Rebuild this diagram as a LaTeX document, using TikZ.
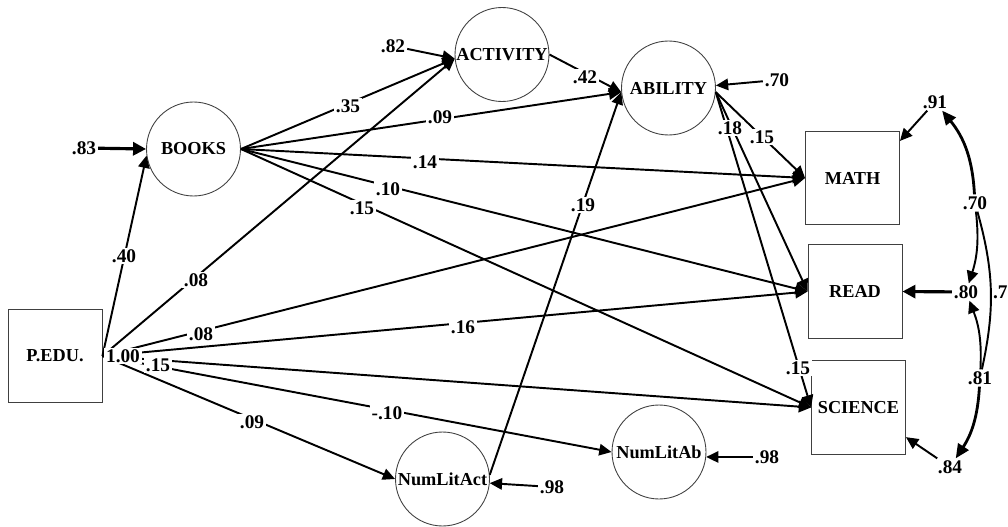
\documentclass[tikz,border=0pt]{standalone}
\usepackage{fontspec}
\setmainfont{Liberation Serif}
\usetikzlibrary{arrows.meta}
\tikzset{
  latent/.style={circle, draw=black!75, line width=0.5pt, minimum size=1.88cm, inner sep=0pt,
    font=\fontsize{10.4}{12}\selectfont\bfseries},
  observed/.style={rectangle, draw=black!75, line width=0.5pt, minimum width=1.88cm,
    minimum height=1.87cm, inner sep=0pt, font=\fontsize{10.4}{12}\selectfont\bfseries},
  patharr/.style={-{Triangle[length=7pt,width=6.5pt]}, line width=1.1pt},
  resarr/.style={-{Triangle[length=7.4pt,width=7.4pt]}, line width=1.8pt},
  covarr/.style={-{Triangle[length=8pt,width=7pt]}, line width=1.6pt},
  covline/.style={line width=1.1pt},
  coef/.style={fill=white, inner sep=1pt, font=\fontsize{11}{13}\selectfont\bfseries},
  resl/.style={inner sep=1pt, font=\fontsize{11}{13}\selectfont\bfseries},
}

\begin{document}
\begin{tikzpicture}[x=0.02cm,y=-0.02cm]
\useasboundingbox (0,0) rectangle (1008,527);

% ===================== variables ========================
\node[observed] (pedu) at (55,356) {P.EDU.};
\node[latent] (books) at (193.5,149) {BOOKS};
\node[latent] (activity) at (502,54.5) {ACTIVITY};
\node[latent] (ability) at (668.5,88) {ABILITY};
\node[latent] (numlitact) at (442.5,479) {NumLitAct};
\node[latent] (numlitab) at (659,452) {NumLitAb};
\node[observed] (math) at (852.5,178) {MATH};
\node[observed] (read) at (855,291.5) {READ};
\node[observed] (science) at (858.5,407.5) {SCIENCE};

% ===================== paths ========================
\draw[patharr] (pedu.east) -- (books.188);
\draw[patharr] (pedu.east) -- (activity.185);
\draw[patharr] (pedu.east) -- (math.west);
\draw[patharr] (pedu.east) -- (read.west);
\draw[patharr] (pedu.east) -- (science.west);
\draw[patharr] (pedu.east) -- (numlitab.west);
\draw[patharr] (pedu.east) -- (numlitact.west);
\draw[patharr] (books.east) -- (activity.185);
\draw[patharr] (books.east) -- (ability.185);
\draw[patharr] (books.east) -- (math.west);
\draw[patharr] (books.east) -- (read.west);
\draw[patharr] (books.east) -- (science.west);
\draw[patharr] (activity.east) -- (ability.185);
\draw[patharr] (numlitact.5) -- (ability.185);
\draw[patharr] (ability.355) -- (math.west);
\draw[patharr] (ability.355) -- (read.west);
\draw[patharr] (ability.355) -- (science.west);

% ===================== residuals ========================
\node[resl] (e83) at (84,148) {.83};
\node[resl] (e82) at (393,46) {.82};
\node[resl] (e70) at (777,80) {.70};
\node[resl] (e98a) at (552,487) {.98};
\node[resl] (e98b) at (767,457) {.98};
\node[resl] (e91) at (935,102) {.91};
\node[resl] (c80) at (966,292) {.80};
\node[resl] (e84) at (950,467) {.84};
\draw[resarr] (e83) -- (books.west);
\draw[patharr] (e82) -- (activity.185);
\draw[patharr] (e70) -- (ability.3);
\draw[patharr] (e98a) -- (numlitact.355);
\draw[patharr] (e98b) -- (numlitab.354);
\draw[patharr] (e91) -- (math.38);
\draw[resarr] (c80) -- (read.east);
\draw[patharr] (e84) -- (science.-32);

% correlated errors
\node[resl] (c70) at (975,203) {.70};
\node[resl] (c81) at (980,378) {.81};
\node[resl, anchor=west] (c79) at (991,292) {.79};
\draw[covarr] (c70) to[bend right=18] (e91);
\draw[covline, -{Triangle[length=7pt,width=6.5pt]}] (c70) to[bend left=12] (c80);
\draw[covline, -{Triangle[length=7pt,width=6.5pt]}] (c81) to[bend right=12] (c80);
\draw[covline] (c70) to[bend left=14] (c81);
\draw[covarr] (c81) to[bend left=15] (e84);

% ===================== coefficients ========================
\node[coef] (k40) at (124,256) {.40};
\node[coef] (k100) at (123,356) {1.00};
\node[coef] (k08a) at (196,280) {.08};
\node[coef] (k08b) at (201,334) {.08};
\node[coef] (k15a) at (158,365) {.15};
\node[coef] (k16) at (463,327) {.16};
\node[coef] (k10a) at (387,413) {-.10};
\node[coef] (k09a) at (252,422) {.09};
\node[coef] (k35) at (348,106) {.35};
\node[coef] (k09b) at (440,117) {.09};
\node[coef] (k14) at (425,162) {.14};
\node[coef] (k10b) at (388,189) {.10};
\node[coef] (k15b) at (362,208) {.15};
\node[coef] (k42) at (585,77) {.42};
\node[coef] (k19) at (583,205) {.19};
\node[coef] (k18) at (730,128) {.18};
\node[coef] (k15c) at (762,137) {.15};
\node[coef] (k15d) at (798,368) {.15};

\end{tikzpicture}
\end{document}
